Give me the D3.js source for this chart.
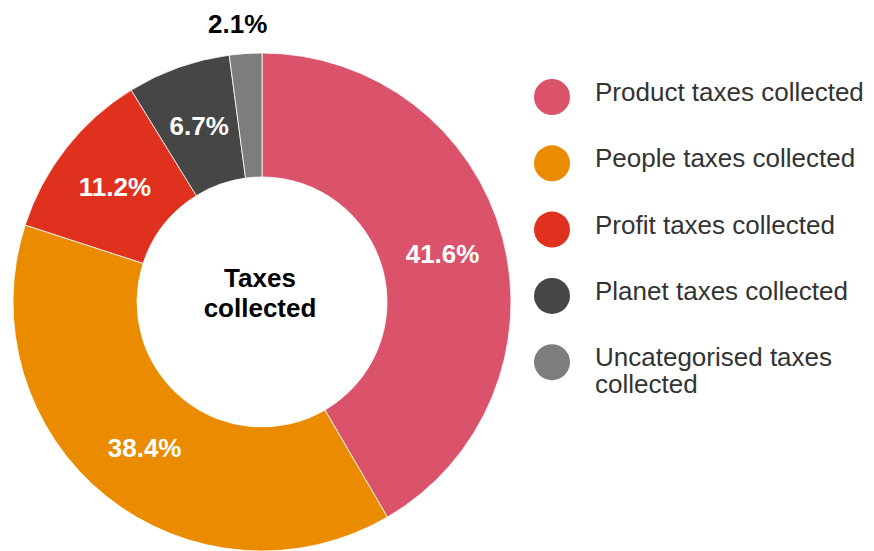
<!DOCTYPE html>
<html>
<head>
<meta charset="utf-8">
<script src="https://cdn.jsdelivr.net/npm/d3@7"></script>
<style>
  html, body { margin: 0; padding: 0; background: #fff; }
  svg { display: block; font-family: "Liberation Sans", Arial, sans-serif; }
</style>
</head>
<body>
<svg id="chart" width="874" height="551"></svg>
<script>
// Donut of taxes collected, with legend on the right.
const categories = [
  "Product taxes collected",
  "People taxes collected",
  "Profit taxes collected",
  "Planet taxes collected",
  "Uncategorised taxes collected"
];
const values = [41.6, 38.4, 11.2, 6.7, 2.1];
const colors = ["#db536a", "#eb8c00", "#e0301e", "#464646", "#7d7d7d"];
const legendLines = [
  ["Product taxes collected"],
  ["People taxes collected"],
  ["Profit taxes collected"],
  ["Planet taxes collected"],
  ["Uncategorised taxes", "collected"]
];

const CX = 262, CY = 302;
const R_OUT = 249, R_IN = 125;

const svg = d3.select("#chart");
const data = categories.map((c, i) => ({ name: c, value: values[i], color: colors[i], lines: legendLines[i] }));

const pie = d3.pie().value(d => d.value).sort(null);
const arc = d3.arc().innerRadius(R_IN).outerRadius(R_OUT);
const outerLabelArc = d3.arc().innerRadius(R_OUT + 30).outerRadius(R_OUT + 30);

const arcs = pie(data);
const g = svg.append("g").attr("transform", `translate(${CX},${CY})`);

g.selectAll("path")
  .data(arcs)
  .enter().append("path")
  .attr("d", arc)
  .attr("fill", d => d.data.color)
  .attr("stroke", "#fff")
  .attr("stroke-width", 0.8);

// slice labels: inside when the slice is big enough, otherwise above
g.selectAll("text.pct")
  .data(arcs)
  .enter().append("text")
  .attr("class", "pct")
  .attr("transform", d => {
    const small = d.data.value < 5;
    const [x, y] = small ? outerLabelArc.centroid(d) : arc.centroid(d);
    return `translate(${small ? x - 6 : x},${y})`;
  })
  .attr("text-anchor", "middle")
  .attr("dy", "0.36em")
  .style("font-size", "26px")
  .style("font-weight", "bold")
  .style("fill", d => d.data.value < 5 ? "#000" : "#fff")
  .text(d => d.data.value.toFixed(1) + "%");

// centre title
const title = g.append("text")
  .attr("text-anchor", "middle")
  .style("font-size", "26px")
  .style("font-weight", "bold")
  .style("fill", "#000");
title.append("tspan").attr("x", -2).attr("y", -15).text("Taxes");
title.append("tspan").attr("x", -2).attr("y", 15).text("collected");

// legend
const legend = svg.append("g").attr("transform", "translate(552,97)");
const item = legend.selectAll("g")
  .data(data)
  .enter().append("g")
  .attr("transform", (d, i) => `translate(0,${i * 66.3})`);

item.append("circle")
  .attr("r", 18)
  .attr("fill", d => d.color);

item.append("text")
  .style("font-size", "26px")
  .style("fill", "#333")
  .each(function(d) {
    const t = d3.select(this);
    d.lines.forEach((ln, j) => {
      t.append("tspan").attr("x", 43).attr("y", 4 + j * 27).text(ln);
    });
  });
</script>
</body>
</html>
